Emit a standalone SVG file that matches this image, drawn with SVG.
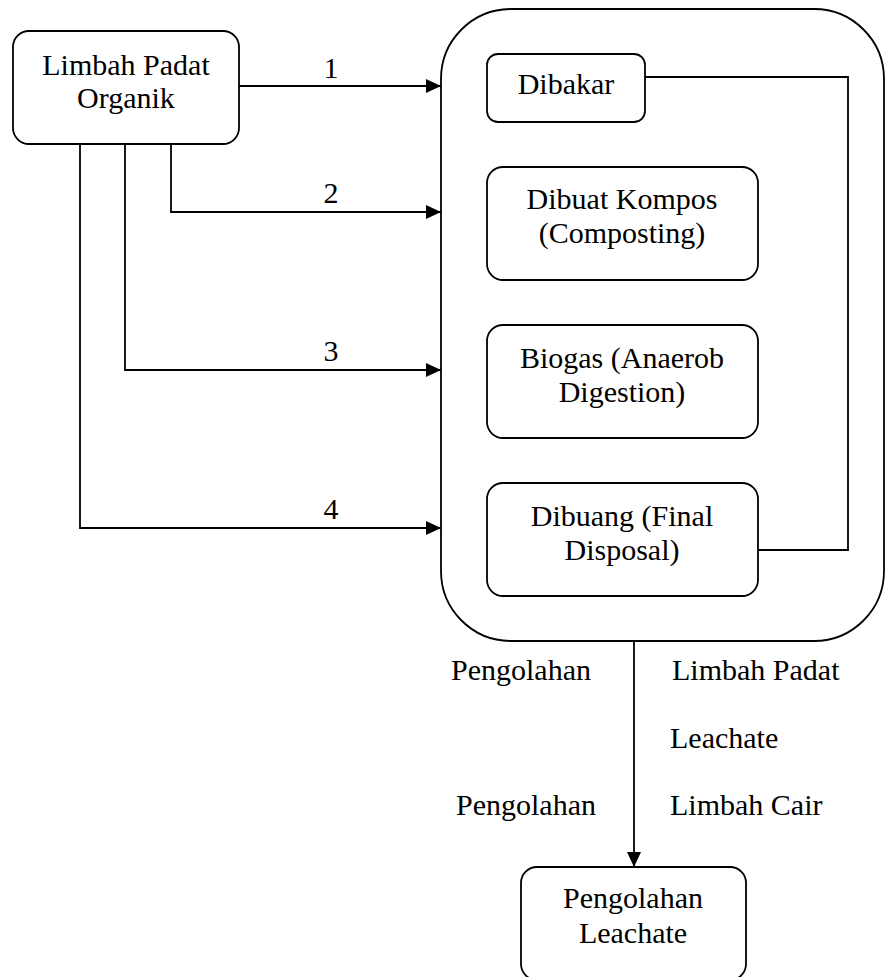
<svg xmlns="http://www.w3.org/2000/svg" width="885" height="977" viewBox="0 0 885 977">
<style>
.box{fill:#fff;stroke:#000;stroke-width:1.8}
.ln{fill:none;stroke:#000;stroke-width:1.8}
text{font-family:"Liberation Serif","Times New Roman",serif;font-size:30px;fill:#000}
.c{text-anchor:middle}
</style>
<defs>
<marker id="ah" markerUnits="userSpaceOnUse" markerWidth="16" markerHeight="14" refX="15" refY="7" orient="auto">
<path d="M0,0 L15,7 L0,14 Z" fill="#000"/>
</marker>
</defs>
<rect width="885" height="977" fill="#fff"/>
<g id="container">
<rect class="box" x="441" y="9" width="443" height="632" rx="70" ry="70"/>
</g>
<g id="limbah-padat-organik">
<rect class="box" x="13" y="31" width="226" height="113" rx="16"/>
<text class="c" x="126" y="75">Limbah Padat</text>
<text class="c" x="126" y="108">Organik</text>
</g>
<g id="dibakar">
<rect class="box" x="487" y="54" width="158" height="68" rx="11"/>
<text class="c" x="566" y="94">Dibakar</text>
</g>
<g id="kompos">
<rect class="box" x="487" y="167" width="271" height="113" rx="16"/>
<text class="c" x="622" y="209">Dibuat Kompos</text>
<text class="c" x="622" y="243">(Composting)</text>
</g>
<g id="biogas">
<rect class="box" x="487" y="325" width="271" height="113" rx="16"/>
<text class="c" x="622" y="368">Biogas (Anaerob</text>
<text class="c" x="622" y="402">Digestion)</text>
</g>
<g id="dibuang">
<rect class="box" x="487" y="483" width="271" height="113" rx="16"/>
<text class="c" x="622" y="526">Dibuang (Final</text>
<text class="c" x="622" y="560">Disposal)</text>
</g>
<g id="pengolahan-leachate">
<rect class="box" x="521" y="867" width="225" height="113" rx="16"/>
<text class="c" x="633" y="908">Pengolahan</text>
<text class="c" x="633" y="943">Leachate</text>
</g>
<g id="connectors">
<path class="ln" d="M239,86 H441" marker-end="url(#ah)"/>
<path class="ln" d="M171,144 V212 H441" marker-end="url(#ah)"/>
<path class="ln" d="M125,144 V370 H441" marker-end="url(#ah)"/>
<path class="ln" d="M80,144 V528 H441" marker-end="url(#ah)"/>
<path class="ln" d="M645,77 H848 V550 H758"/>
<path class="ln" d="M634,641 V867" marker-end="url(#ah)"/>
<text class="c" x="331" y="78">1</text>
<text class="c" x="331" y="203">2</text>
<text class="c" x="331" y="361">3</text>
<text class="c" x="331" y="519">4</text>
<text x="451" y="680">Pengolahan</text>
<text x="672" y="680">Limbah Padat</text>
<text x="670" y="748">Leachate</text>
<text x="456" y="815">Pengolahan</text>
<text x="670" y="815">Limbah Cair</text>
</g>
</svg>
